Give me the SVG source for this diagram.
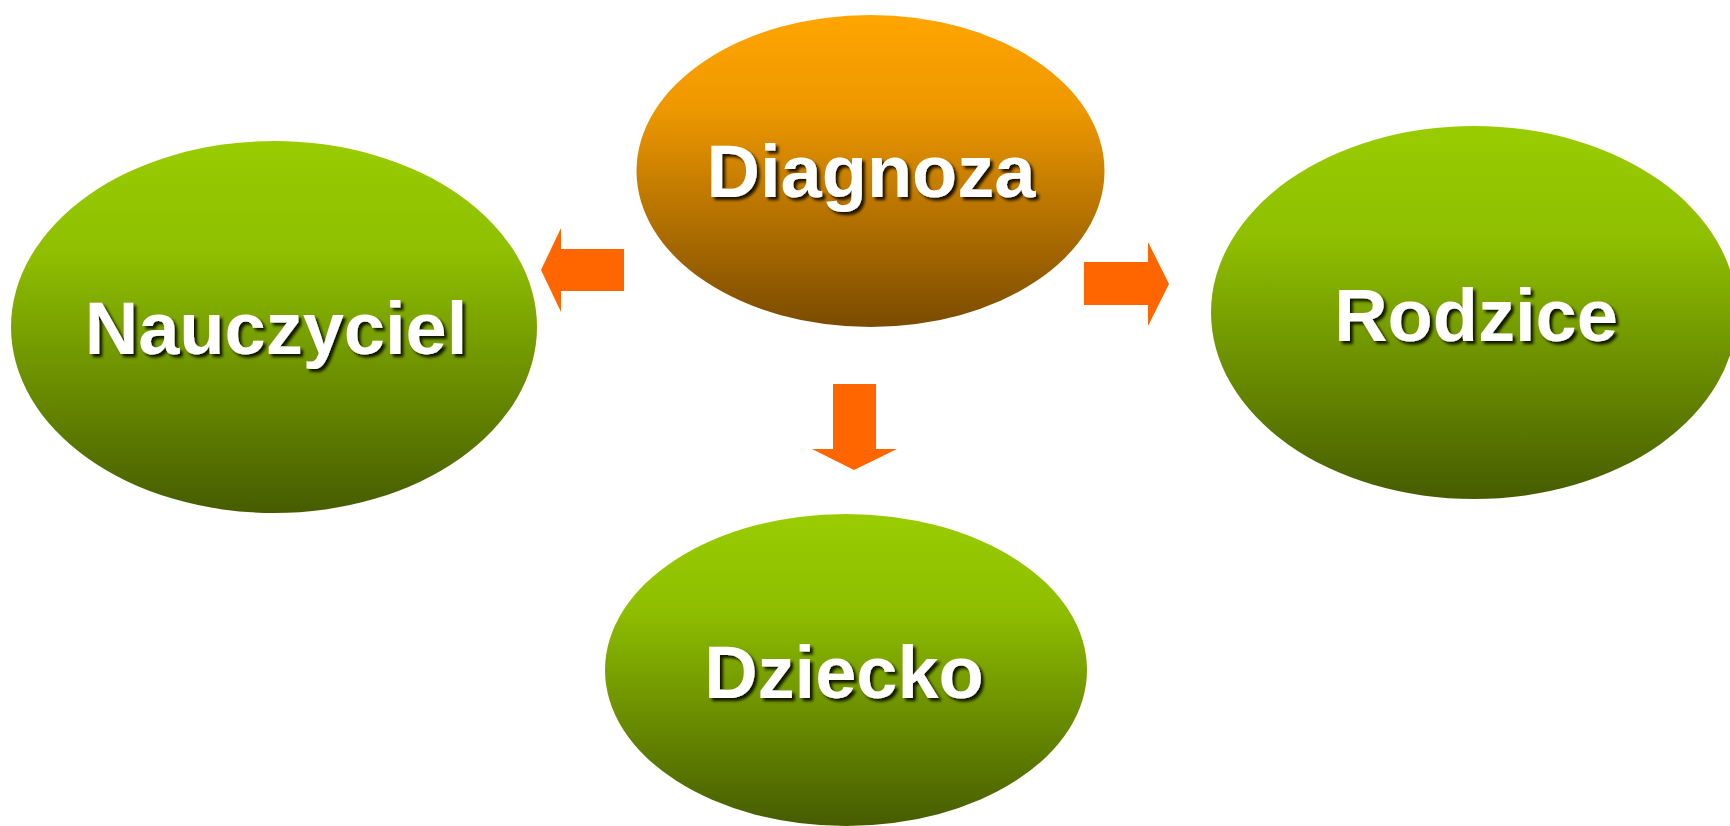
<svg xmlns="http://www.w3.org/2000/svg" width="1730" height="826" viewBox="0 0 1730 826">
<defs>
<linearGradient id="gGreen" x1="0" y1="0" x2="0" y2="1">
<stop offset="0" stop-color="#99CC00"/>
<stop offset="0.3" stop-color="#8FBF00"/>
<stop offset="1" stop-color="#465C00"/>
</linearGradient>
<linearGradient id="gOrange" x1="0" y1="0" x2="0" y2="1">
<stop offset="0" stop-color="#FFA500"/>
<stop offset="0.3" stop-color="#EE9800"/>
<stop offset="1" stop-color="#7A4B00"/>
</linearGradient>
<filter id="shadow" x="-10%" y="-20%" width="130%" height="160%">
<feDropShadow dx="3" dy="3" stdDeviation="1.5" flood-color="#000" flood-opacity="0.85"/>
</filter>
</defs>
<style>
.lbl{font-family:"Liberation Sans",Arial,sans-serif;font-weight:bold;font-size:74px;fill:#fff;text-anchor:middle;filter:url(#shadow)}
.arrow{fill:#FF6600}
</style>
<rect width="1730" height="826" fill="#fff"/>
<g id="connectors">
<polygon class="arrow" points="624,249 561,249 561,228 541,270 561,312 561,291 624,291"/>
<polygon class="arrow" points="1084,262 1148,262 1148,242 1169,284 1148,326 1148,305 1084,305"/>
<polygon class="arrow" points="833,384 876,384 876,449 897,449 854,470 812,449 833,449"/>
</g>
<g id="diagnoza">
<ellipse cx="870.5" cy="171" rx="234" ry="156" fill="url(#gOrange)"/>
<text class="lbl" x="871" y="197">Diagnoza</text>
</g>
<g id="nauczyciel">
<ellipse cx="274" cy="327" rx="263" ry="186" fill="url(#gGreen)"/>
<text class="lbl" x="276" y="354">Nauczyciel</text>
</g>
<g id="rodzice">
<ellipse cx="1474" cy="312.5" rx="263" ry="186.5" fill="url(#gGreen)"/>
<text class="lbl" x="1476" y="341">Rodzice</text>
</g>
<g id="dziecko">
<ellipse cx="846" cy="670" rx="241" ry="156" fill="url(#gGreen)"/>
<text class="lbl" x="844" y="698">Dziecko</text>
</g>
</svg>
